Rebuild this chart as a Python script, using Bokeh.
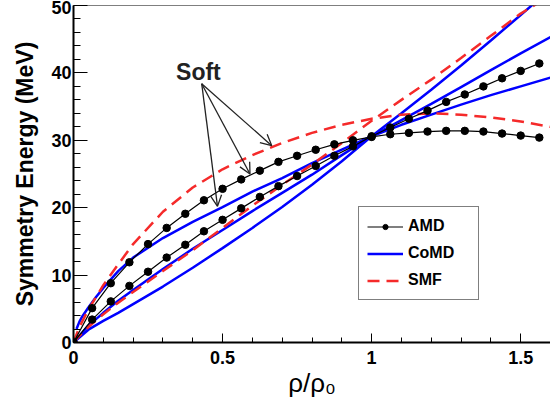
from bokeh.plotting import figure
from bokeh.models import (Range1d, Legend, LegendItem, Label, Arrow, OpenHead,
                          Span, SingleIntervalTicker)
from bokeh.embed import file_html
from bokeh.resources import INLINE

# AMD points (rho/rho0 step 1/16)
amd_x = [0, 0.0625, 0.125, 0.1875, 0.25, 0.3125, 0.375, 0.4375, 0.5, 0.5625,
         0.625, 0.6875, 0.75, 0.8125, 0.875, 0.9375, 1.0, 1.0625, 1.125, 1.1875,
         1.25, 1.3125, 1.375, 1.4375, 1.5, 1.5625]
amd_stiff = [0, 3.4, 6.1, 8.4, 10.5, 12.6, 14.5, 16.5, 18.2, 19.9,
             21.6, 23.2, 24.7, 26.2, 27.7, 29.1, 30.6, 31.9, 33.2, 34.4,
             35.7, 36.8, 38.0, 39.2, 40.3, 41.4]
amd_soft = [0, 5.1, 8.8, 11.9, 14.6, 17.0, 19.1, 21.1, 22.8, 24.2,
            25.5, 26.8, 27.7, 28.6, 29.4, 30.0, 30.5, 30.9, 31.1, 31.3,
            31.4, 31.4, 31.3, 31.0, 30.7, 30.4]

# CoMD curves
comd_x_soft = [0.01, 0.02, 0.03, 0.05, 0.075, 0.1, 0.15, 0.2, 0.3, 0.4, 0.5,
               0.6, 0.7, 0.8, 0.9, 1.0, 1.1, 1.2, 1.3, 1.4, 1.5, 1.6]
comd_soft = [2.0, 3.1, 3.9, 5.2, 6.7, 8.1, 10.6, 12.6, 15.5, 17.9, 20.1,
             22.4, 24.4, 26.6, 28.6, 30.6, 32.3, 33.8, 35.3, 36.7, 38.0, 39.3]
comd_x = [0, 0.05, 0.1, 0.15, 0.2, 0.3, 0.4, 0.5, 0.6, 0.7, 0.8, 0.9,
          1.0, 1.1, 1.2, 1.3, 1.4, 1.5, 1.6]
comd_mid = [0, 2.5, 4.4, 6.2, 7.8, 10.9, 13.9, 16.7, 19.5, 22.2, 24.9, 27.8,
            30.6, 33.0, 35.4, 37.9, 40.4, 42.9, 45.3]
comd_stiff = [0, 1.9, 3.2, 4.4, 5.7, 8.3, 11.1, 14.0, 17.0, 20.1, 23.4, 26.9,
              30.6, 34.0, 37.5, 41.1, 44.8, 48.6, 52.4]

# SMF curves
smf_x = [0, 0.02, 0.05, 0.1, 0.15, 0.2, 0.3, 0.4, 0.5, 0.6, 0.7, 0.8, 0.9,
         1.0, 1.1, 1.2, 1.3, 1.4, 1.5, 1.6]
smf_soft = [0, 2.3, 4.9, 8.5, 11.6, 14.6, 19.4, 23.0, 25.7, 27.8, 29.6, 31.1,
            32.3, 33.2, 33.8, 34.0, 33.8, 33.4, 32.8, 32.0]
smf_stiff = [0, 1.0, 2.3, 4.2, 5.9, 7.5, 10.6, 13.7, 17.0, 20.3, 23.4, 26.4,
             29.6, 32.9, 36.0, 39.0, 42.2, 45.5, 48.8, 51.5]

# "Soft" annotation
soft_label = (0.344, 40.1)
arrow_start = (0.430, 38.4)
arrow_tips_x = [0.665, 0.592, 0.483]
arrow_tips_y = [29.2, 25.0, 20.2]

BLUE = "#0000ff"
RED = "#f52a2a"
FONT = "Liberation Sans"

p = figure(width=550, height=402, output_backend="svg", toolbar_location=None,
           x_range=Range1d(0, 1.6), y_range=Range1d(0, 50),
           min_border_left=73, min_border_right=0, min_border_top=5,
           min_border_bottom=60)
p.outline_line_color = None
p.grid.grid_line_color = None
p.background_fill_color = "white"
p.border_fill_color = "white"

p.xaxis.ticker = SingleIntervalTicker(interval=0.5, num_minor_ticks=5)
p.yaxis.ticker = SingleIntervalTicker(interval=10, num_minor_ticks=5)
for ax in (p.xaxis, p.yaxis):
    ax.axis_line_color = "black"
    ax.axis_line_width = 2
    ax.major_tick_line_color = "black"
    ax.minor_tick_line_color = "black"
    ax.major_tick_out = 0
    ax.minor_tick_out = 0
    ax.major_label_text_font = FONT
    ax.major_label_text_font_style = "bold"
    ax.major_label_text_font_size = "18px"
    ax.major_label_text_color = "black"
    ax.axis_label_text_font = FONT
    ax.axis_label_text_color = "black"
p.yaxis.major_tick_in = 14
p.yaxis.minor_tick_in = 7
p.xaxis.major_tick_in = 9
p.xaxis.minor_tick_in = 5
p.yaxis.major_label_standoff = 2
p.xaxis.major_label_standoff = 8
p.xaxis.major_label_overrides = {0: "0", 1: "1"}
p.yaxis.axis_label = "Symmetry Energy (MeV)"
p.yaxis.axis_label_text_font_style = "bold"
p.yaxis.axis_label_text_font_size = "23px"
p.yaxis.axis_label_standoff = 10
p.xaxis.axis_label = "ρ/ρ₀"
p.xaxis.axis_label_text_font_style = "normal"
p.xaxis.axis_label_text_font_size = "26px"
p.xaxis.axis_label_standoff = 1

p.add_layout(Span(location=50, dimension="width", line_color="black", line_width=1))

# CoMD
r_c1 = p.line(comd_x_soft, comd_soft, line_color=BLUE, line_width=2.5)
p.line(comd_x, comd_mid, line_color=BLUE, line_width=2.5)
p.line(comd_x, comd_stiff, line_color=BLUE, line_width=2.5)

# SMF
r_s1 = p.line(smf_x, smf_soft, line_color=RED, line_width=2.5, line_dash="12 7")
p.line(smf_x, smf_stiff, line_color=RED, line_width=2.5, line_dash="12 7")

# AMD
r_a1 = p.line(amd_x, amd_stiff, line_color="black", line_width=1.2)
r_a2 = p.scatter(amd_x, amd_stiff, size=7.5, color="black")
p.line(amd_x, amd_soft, line_color="black", line_width=1.2)
p.scatter(amd_x, amd_soft, size=7.5, color="black")

# small glyph_height keeps the legend marker small; label_height sets row pitch
legend = Legend(items=[LegendItem(label="AMD", renderers=[r_a1, r_a2]),
                       LegendItem(label="CoMD", renderers=[r_c1]),
                       LegendItem(label="SMF", renderers=[r_s1])],
                location=(285, 42), orientation="vertical",
                border_line_color="black", border_line_width=1,
                background_fill_color="white", background_fill_alpha=1,
                padding=8, spacing=5, margin=0,
                glyph_width=36, glyph_height=13, label_height=22,
                label_width=62, label_standoff=5,
                label_text_font=FONT, label_text_font_style="bold",
                label_text_font_size="16px", label_text_color="black")
p.add_layout(legend)

p.add_layout(Label(x=soft_label[0], y=soft_label[1], text="Soft",
                   text_font=FONT, text_font_style="bold", text_font_size="23px",
                   text_color="#222222", text_baseline="middle"))
for tx, ty in zip(arrow_tips_x, arrow_tips_y):
    p.add_layout(Arrow(end=OpenHead(size=11, line_color="#222222", line_width=1.3),
                       x_start=arrow_start[0], y_start=arrow_start[1],
                       x_end=tx, y_end=ty, line_color="#222222", line_width=1.3))

open("out.html", "w").write(file_html(p, INLINE))
